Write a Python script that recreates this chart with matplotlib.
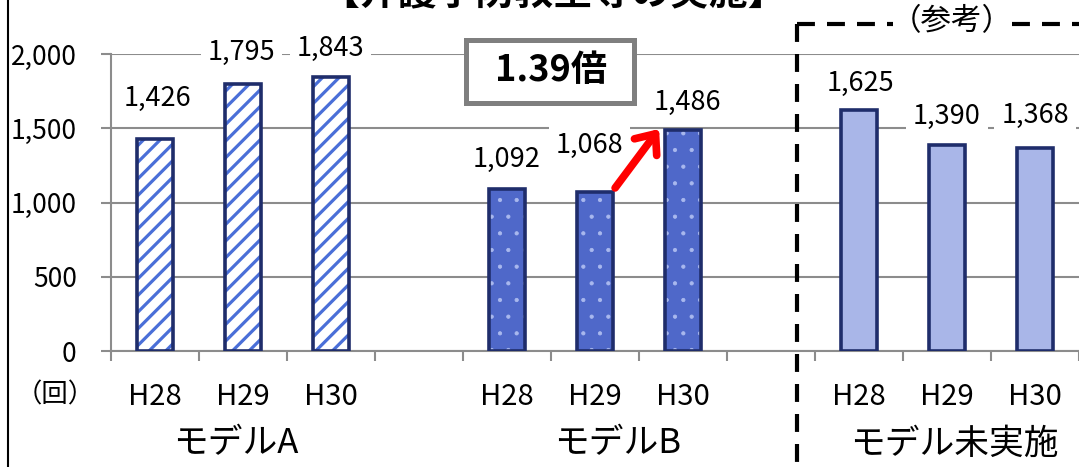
import matplotlib
matplotlib.use("Agg")
import matplotlib.pyplot as plt
from matplotlib.patches import Rectangle
from matplotlib.lines import Line2D
from matplotlib.transforms import blended_transform_factory

# ---------------- data ----------------
periods = ["H28", "H29", "H30"]
groups = ["モデルA", "モデルB", "モデル未実施"]
model_a = [1426, 1795, 1843]
model_b = [1092, 1068, 1486]
model_none = [1625, 1390, 1368]
yticks = [0, 500, 1000, 1500, 2000]
ytick_labels = ["0", "500", "1,000", "1,500", "2,000"]
unit_label = "（回）"
title = "【介護予防教室等の実施】"
ref_label = "（参考）"
ratio_label = "1.39倍"

# ---------------- style / layout ----------------
plt.rcParams["font.family"] = ["Noto Sans CJK JP", "DejaVu Sans"]
W, H = 1079, 467
fig = plt.figure(figsize=(W / 100, H / 100), dpi=100)

slot_px = 88.9
ax_left_px = 110.7
ax = fig.add_axes([ax_left_px / W, (H - 351) / H, 1 - ax_left_px / W, (351 - 54) / H])
ax.set_xlim(-0.5, (W - ax_left_px) / slot_px - 0.5)
ax.set_ylim(0, 2000)

navy = "#1f2d6b"
grid_c = "#8c8c8c"
series = [model_a, model_b, model_none]
face = ["white", "#4f68c9", "#a9b6e8"]
hatch = ["//", ".", None]
hatch_c = ["#4a6fd8", "#a9b8ee", None]
hatch_lw = [2.3, 0.6, 1.0]
bar_w = 0.41

# label offsets (pixels) relative to bar top centre
label_dx = [[3, -1, 0], [0, -5, 4.5], [2, 0, 0]]
label_dy = [[41, 32, 29], [29, 47, 28], [26, 28.5, 32]]

for gi, vals in enumerate(series):
    xs = [gi * 4 + k for k in range(len(vals))]
    with plt.rc_context({"hatch.linewidth": hatch_lw[gi]}):
        inner = ax.bar(xs, vals, width=bar_w, color=face[gi],
                       edgecolor=hatch_c[gi] if hatch[gi] else face[gi],
                       hatch=hatch[gi], linewidth=0, zorder=2)
        for p in inner:
            if hasattr(p, "set_hatch_linewidth"):
                p.set_hatch_linewidth(hatch_lw[gi])
    ax.bar(xs, vals, width=bar_w, fill=False, edgecolor=navy, linewidth=2.6, zorder=3)
    for k, (x, v) in enumerate(zip(xs, vals)):
        ax.annotate(f"{v:,}", xy=(x, v),
                    xytext=(label_dx[gi][k] * 0.72, label_dy[gi][k] * 0.72),
                    textcoords="offset points", ha="center", va="center",
                    fontsize=19.5, color="black", zorder=5, annotation_clip=False,
                    bbox=dict(boxstyle="square,pad=0.25", fc="white", ec="none"))

# axes styling
ax.set_yticks(yticks)
ax.set_yticklabels(ytick_labels, fontsize=19)
ax.set_xticks([i - 0.5 for i in range(12)])
ax.set_xticklabels([])
ax.tick_params(axis="y", direction="out", length=7.5, width=1.5, color=grid_c, pad=17)
ax.tick_params(axis="x", direction="out", length=7.5, width=1.5, color=grid_c)
ax.yaxis.grid(True, color=grid_c, linewidth=1.5)
ax.set_axisbelow(True)
for s in ["top", "right"]:
    ax.spines[s].set_visible(False)
for s in ["left", "bottom"]:
    ax.spines[s].set_color(grid_c)
    ax.spines[s].set_linewidth(1.5)

# period and group labels
trans = blended_transform_factory(ax.transData, fig.transFigure)
for gi in range(len(groups)):
    for k, p in enumerate(periods):
        ax.text(gi * 4 + k, 1 - 397 / H, p, transform=trans, ha="center", va="center",
                fontsize=21)
group_x = [0.92, 5.26, 9.08]
for gi, g in enumerate(groups):
    ax.text(group_x[gi], 1 - 444 / H, g, transform=trans, ha="center", va="center",
            fontsize=25)
fig.text(55 / W, 1 - 395 / H, unit_label, ha="center", va="center", fontsize=19)

# red arrow
ax.annotate("", xy=(5.73, 1495), xytext=(5.23, 1098),
            arrowprops=dict(arrowstyle="->,head_length=0.6,head_width=0.5",
                            color="#ff0000", lw=5.5, mutation_scale=20,
                            shrinkA=0, shrinkB=0), zorder=6, annotation_clip=False)

# ratio box
fig.add_artist(Rectangle((466 / W, 1 - 103 / H), 168 / W, 63 / H, transform=fig.transFigure,
                         fc="white", ec="#7f7f7f", lw=3.6, zorder=7))
fig.text(551 / W, 1 - 71 / H, ratio_label, ha="center", va="center", fontsize=26,
         fontweight="bold", zorder=8)

# title (clipped at top)
fig.text(554 / W, 1 - 5 / H, title, ha="center", va="baseline", fontsize=28,
         fontweight="bold")

# reference dashed frame
dash = (0, (4.3, 2.9))
fig.add_artist(Line2D([797 / W, 797 / W], [1 - 24 / H, 0], transform=fig.transFigure,
                      color="black", lw=3, linestyle=dash))
fig.add_artist(Line2D([797 / W, 893 / W], [1 - 24 / H, 1 - 24 / H], transform=fig.transFigure,
                      color="black", lw=3, linestyle=dash))
fig.add_artist(Line2D([1012 / W, 1 + 0.01], [1 - 24 / H, 1 - 24 / H], transform=fig.transFigure,
                      color="black", lw=3, linestyle=dash))
fig.text(952 / W, 1 - 22 / H, ref_label, ha="center", va="center", fontsize=22)

# left frame line
fig.add_artist(Line2D([8 / W, 8 / W], [0, 1], transform=fig.transFigure, color="black", lw=1.5))

fig.savefig("out.png", dpi=100)
